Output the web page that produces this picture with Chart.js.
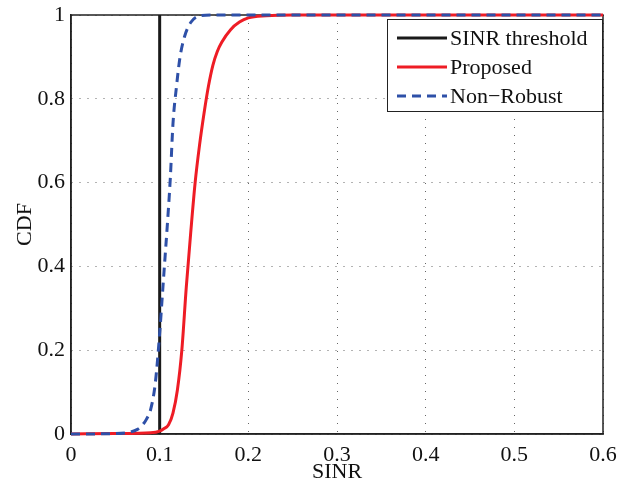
<!DOCTYPE html>
<html>
<head>
<meta charset="utf-8">
<script src="https://cdn.jsdelivr.net/npm/chart.js@4/dist/chart.umd.min.js"></script>
<style>
  html, body { margin: 0; padding: 0; background: #fff; }
  #wrap { width: 617px; height: 487px; }
</style>
</head>
<body>
<div id="wrap"><canvas id="cdf-chart"></canvas></div>
<script>
  // values
  var thresholdX = [0.1, 0.1];
  var thresholdY = [0, 1];

  var proposedX = [0, 0.05, 0.09, 0.1, 0.105, 0.11, 0.115, 0.12, 0.125, 0.13, 0.135, 0.14, 0.145, 0.15, 0.155, 0.16, 0.165, 0.17, 0.18, 0.19, 0.2, 0.22, 0.25, 0.6];
  var proposedY = [0, 0.001, 0.003, 0.007, 0.013, 0.022, 0.05, 0.105, 0.2, 0.35, 0.48, 0.6, 0.69, 0.765, 0.83, 0.88, 0.913, 0.935, 0.965, 0.983, 0.993, 0.998, 1, 1];

  var nonRobustX = [0, 0.05, 0.065, 0.075, 0.08, 0.085, 0.09, 0.095, 0.1, 0.103, 0.106, 0.109, 0.112, 0.115, 0.119, 0.123, 0.128, 0.135, 0.145, 0.16, 0.6];
  var nonRobustY = [0, 0.001, 0.004, 0.011, 0.02, 0.035, 0.06, 0.12, 0.24, 0.33, 0.42, 0.51, 0.61, 0.74, 0.83, 0.9, 0.948, 0.982, 0.998, 1, 1];

  var xTicks = [0, 0.1, 0.2, 0.3, 0.4, 0.5, 0.6];
  var yTicks = [0, 0.2, 0.4, 0.6, 0.8, 1];

  function toPoints(xs, ys) {
    return xs.map(function (x, i) { return { x: x, y: ys[i] }; });
  }

  function tickText(v) {
    return String(Math.round(v * 100) / 100);
  }

  var font = "'Liberation Serif'";
  var fontSize = 22;

  // box around the plot, like matlab's "box on"
  var boxPlugin = {
    id: 'box',
    beforeDatasetsDraw: function (chart) {
      var a = chart.chartArea, ctx = chart.ctx;
      ctx.save();
      ctx.strokeStyle = '#222';
      ctx.lineWidth = 1.5;
      ctx.strokeRect(a.left, a.top, a.right - a.left, a.bottom - a.top);
      ctx.restore();
    }
  };

  // legend drawn inside the axes with a frame
  var boxLegend = {
    id: 'boxLegend',
    afterDraw: function (chart) {
      var a = chart.chartArea, ctx = chart.ctx;
      var w = 215, h = 92;
      var x0 = a.right - 1 - w, y0 = a.top + 4;
      ctx.save();
      ctx.fillStyle = '#fff';
      ctx.fillRect(x0, y0, w, h);
      ctx.strokeStyle = '#222';
      ctx.lineWidth = 1;
      ctx.strokeRect(x0 + 0.5, y0 + 0.5, w, h);
      ctx.font = fontSize + 'px ' + font;
      ctx.textBaseline = 'middle';
      ctx.fillStyle = '#111';
      chart.data.datasets.forEach(function (ds, i) {
        var cy = y0 + 19 + i * 29;
        ctx.strokeStyle = ds.borderColor;
        ctx.lineWidth = ds.borderWidth;
        ctx.setLineDash(ds.borderDash || []);
        ctx.beginPath();
        ctx.moveTo(x0 + 10, cy);
        ctx.lineTo(x0 + 60, cy);
        ctx.stroke();
        ctx.setLineDash([]);
        ctx.fillText(ds.label, x0 + 63, cy + 1);
      });
      ctx.restore();
    }
  };

  var cdfChart = new Chart(document.getElementById('cdf-chart'), {
    type: 'scatter',
    data: {
      datasets: [
        {
          label: 'SINR threshold',
          data: toPoints(thresholdX, thresholdY),
          showLine: true,
          borderColor: '#1a1a1a',
          borderWidth: 3,
          pointRadius: 0,
          clip: 4,
          order: 3
        },
        {
          label: 'Proposed',
          data: toPoints(proposedX, proposedY),
          showLine: true,
          borderColor: '#ee1c25',
          borderWidth: 3,
          pointRadius: 0,
          cubicInterpolationMode: 'monotone',
          clip: 4,
          order: 2
        },
        {
          label: 'Non\u2212Robust',
          data: toPoints(nonRobustX, nonRobustY),
          showLine: true,
          borderColor: '#2e50a8',
          borderWidth: 3,
          borderDash: [9, 6],
          pointRadius: 0,
          cubicInterpolationMode: 'monotone',
          clip: 4,
          order: 1
        }
      ]
    },
    options: {
      responsive: true,
      maintainAspectRatio: false,
      animation: false,
      layout: { padding: { top: 15, right: 14, left: 0, bottom: 0 } },
      plugins: {
        legend: { display: false },
        tooltip: { enabled: false }
      },
      scales: {
        x: {
          type: 'linear',
          min: 0,
          max: 0.6,
          afterFit: function (scale) {
            scale.height = 53;
            scale.paddingLeft = 0;
            scale.paddingRight = 0;
          },
          afterBuildTicks: function (scale) {
            scale.ticks = xTicks.map(function (v) { return { value: v }; });
          },
          ticks: {
            color: '#111',
            padding: 8,
            maxRotation: 0,
            callback: tickText,
            font: { family: font, size: fontSize }
          },
          grid: { color: 'rgba(0,0,0,0.6)', drawTicks: false, lineWidth: 1 },
          border: { display: true, color: '#222', width: 1.5, dash: [1, 7] },
          title: {
            display: true,
            text: 'SINR',
            color: '#111',
            padding: { top: 0, bottom: 2 },
            font: { family: font, size: fontSize }
          }
        },
        y: {
          type: 'linear',
          min: 0,
          max: 1,
          afterFit: function (scale) {
            scale.width = 71;
            scale.paddingTop = 0;
            scale.paddingBottom = 0;
          },
          afterBuildTicks: function (scale) {
            scale.ticks = yTicks.map(function (v) { return { value: v }; });
          },
          ticks: {
            color: '#111',
            padding: 6,
            callback: tickText,
            font: { family: font, size: fontSize }
          },
          grid: { color: 'rgba(0,0,0,0.6)', drawTicks: false, lineWidth: 1 },
          border: { display: true, color: '#222', width: 1.5, dash: [1, 7] },
          title: {
            display: true,
            text: 'CDF',
            color: '#111',
            padding: { top: 12, bottom: 0 },
            font: { family: font, size: fontSize }
          }
        }
      }
    },
    plugins: [boxPlugin, boxLegend]
  });
</script>
</body>
</html>
